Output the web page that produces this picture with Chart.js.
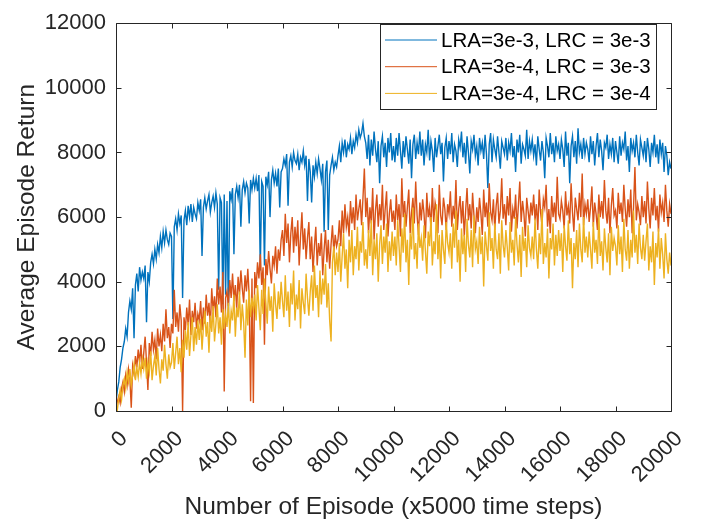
<!DOCTYPE html>
<html>
<head>
<meta charset="utf-8">
<script src="https://cdn.jsdelivr.net/npm/chart.js@4.4.0/dist/chart.umd.min.js"></script>
<style>
  html, body { margin: 0; padding: 0; background: #fff; }
  #wrap { width: 710px; height: 522px; }
</style>
</head>
<body>
<div id="wrap"><canvas id="return-chart" width="710" height="522"></canvas></div>
<script>
// one value every 50 episodes, 0 .. 20000
const episodeStep = 50;
const seriesLabels = ['LRA=3e-3, LRC = 3e-3', 'LRA=3e-4, LRC = 3e-3', 'LRA=3e-4, LRC = 3e-4'];
const seriesColors = ['#0072BD', '#D95319', '#EDB120'];

const blueReturn = [
  300, 650, 900, 1350, 1600, 1950, 2150, 2550, 2300, 3050, 3400, 3150, 3800, 2250, 3900, 4250, 3700, 4450, 4050, 4300,
  4100, 4500, 2750, 4300, 4000, 4600, 4850, 4550, 5000, 4700, 5150, 4900, 5400, 5050, 5550, 5200, 5600, 5300, 5150, 5500,
  5400, 2850, 5700, 5950, 5600, 6100, 5800, 6050, 3500, 5900, 6200, 5750, 6350, 6000, 6400, 5850, 6300, 6100, 5950, 6450,
  6200, 6550, 4800, 6300, 6600, 6250, 6500, 6700, 6150, 6450, 6650, 6300, 6750, 6400, 3750, 6600, 6450, 3300, 6700, 3600,
  6500, 2900, 6800, 6550, 6900, 4850, 6700, 6950, 6600, 7000, 5700, 6850, 7100, 6750, 7050, 6900, 5800, 7150, 6850, 7200,
  6900, 7200, 6800, 7300, 4350, 7100, 6950, 4500, 7250, 7000, 7400, 6000, 7150, 7450, 7050, 7350, 6950, 7500, 6300, 7400,
  7500, 7800, 7600, 7950, 6350, 7700, 7900, 7550, 8000, 7750, 7650, 7950, 7450, 7850, 7700, 8050, 7600, 7900, 6500, 7800,
  7400, 6450, 7600, 7250, 7700, 7350, 7800, 7500, 7150, 7650, 5550, 7400, 7750, 5600, 7300, 7600, 7850, 7450, 7700, 7550,
  7900, 8200, 7700, 8300, 8000, 8400, 7850, 8250, 8100, 8450, 7950, 8350, 8150, 8550, 8300, 8700, 8450, 8600, 8900, 8500,
  8300, 7800, 8550, 7600, 8400, 7900, 8650, 8100, 7700, 8350, 7050, 8200, 8500, 7850, 8300, 7550, 8450, 8000, 8600, 7750,
  8200, 7700, 8450, 7900, 8600, 8050, 7500, 8350, 7850, 8500, 8100, 7650, 8400, 7200, 8250, 8550, 7800, 8300, 7950, 8650,
  7900, 8400, 7600, 8250, 8000, 8700, 7750, 8350, 8050, 7400, 8450, 7850, 8200, 8550, 7950, 8300, 7100, 8150, 8450, 7800,
  8350, 7950, 8600, 7700, 8250, 8050, 7550, 8400, 8150, 8650, 7850, 8300, 7650, 8500, 8000, 7350, 8350, 8100, 8550, 7900,
  8200, 7600, 8450, 8050, 8300, 7800, 8550, 7950, 6900, 8250, 8600, 7700, 8400, 8100, 7850, 8500, 8000, 7500, 8350, 8150,
  7950, 8450, 7750, 8300, 8050, 8600, 7850, 8200, 7400, 8400, 8000, 8550, 7650, 8250, 8100, 7900, 8700, 7800, 8350, 8050,
  8400, 7900, 8250, 7600, 8500, 8100, 7750, 8350, 8000, 7200, 8450, 8200, 7850, 8600, 7950, 8300, 7700, 8500, 8050, 8250,
  7800, 8400, 8100, 7550, 8650, 7900, 8300, 7050, 8200, 8500, 7850, 8350, 7650, 8750, 8000, 8250, 7800, 8450, 7950, 8300,
  8100, 7700, 8500, 7950, 8350, 7600, 8200, 8600, 7850, 8400, 8050, 7450, 8300, 8150, 8550, 7800, 8250, 7950, 8450, 7700,
  8350, 8000, 7650, 8500, 7900, 8300, 8100, 8650, 7750, 8200, 7400, 8450, 8050, 8300, 7850, 8550, 8000, 7600, 8400, 8150,
  7900, 8350, 7700, 8450, 8100, 7550, 8300, 8000, 8550, 7850, 8250, 7650, 8400, 7950, 8300, 7400, 8200, 7900, 7300, 7700,
  7500
];

const orangeReturn = [
  100, 300, 450, 250, 700, 900, 600, 1100, 800, 1300, 1000, 100, 1400, 1150, 1700, 1350, 1900, 1500, 2050, 1300,
  1800, 2300, 1500, 650, 2100, 1700, 2450, 1900, 2200, 1600, 2550, 2000, 2350, 1850, 2700, 2150, 3150, 2250, 2600, 1950,
  2700, 2400, 3750, 2600, 3050, 2450, 3300, 2800, 0, 2900, 2500, 3200, 2650, 3450, 2350, 3100, 2750, 3350, 2550, 3000,
  2800, 3400, 2500, 3200, 2700, 3600, 2950, 3350, 2600, 3800, 3100, 3550, 2900, 4100, 3300, 3850, 3050, 4300, 600, 3500,
  3700, 3250, 4050, 3500, 4250, 3400, 3900, 3150, 4150, 3600, 4350, 3800, 3350, 4200, 3700, 4400, 3550, 300, 4100, 250,
  4300, 3800, 4600, 4100, 4850, 3900, 4450, 2050, 4700, 4200, 4950, 4400, 3950, 4800, 4500, 5100, 4250, 5000, 4650, 5300,
  5600, 4800, 6100, 5200, 5800, 4600, 5500, 6000, 4900, 5700, 5100, 5900, 4500, 5400, 6150, 5000, 5650, 4700, 5350, 5850,
  4700, 5400, 4300, 5100, 5700, 4500, 5200, 4800, 5500, 4200, 5000, 5600, 4600, 5300, 4400, 5150, 5750, 4900, 5450, 5100,
  5300, 5900, 5100, 6200, 5500, 6400, 5700, 6000, 5400, 6500, 5800, 6300, 5600, 6700, 5900, 6250, 6550, 5750, 6600, 7500,
  6000, 6600, 5500, 6300, 5800, 6900, 5300, 6200, 6700, 5700, 6400, 5900, 7000, 5600, 6250, 6800, 5400, 6100, 6550, 5850,
  6200, 5600, 6700, 5900, 6400, 5400, 7200, 6000, 6500, 5700, 6300, 6850, 5500, 6150, 6600, 5800, 7100, 6050, 5450, 6450,
  5900, 6550, 6100, 5350, 6750, 6000, 6300, 5650, 6900, 5850, 6450, 6200, 5500, 7000, 6050, 5750, 6600, 6250, 5600, 6400,
  6100, 6800, 5700, 6350, 5950, 7150, 5600, 6250, 6650, 5800, 6500, 5400, 6200, 6900, 5900, 6400, 5650, 6750, 6050, 5500,
  6300, 5850, 6600, 6100, 5450, 6850, 6000, 6450, 5700, 7050, 6150, 5900, 6550, 5600, 6350, 6750, 5800, 6200, 7200, 5950,
  6400, 5750, 6650, 6050, 6900, 5550, 6250, 5950, 6700, 5650, 6350, 7100, 5850, 6500, 6100, 5400, 6600, 6200, 5800, 6450,
  6050, 6700, 5900, 6400, 5600, 6850, 6150, 5750, 6550, 6300, 7000, 5700, 6250, 5500, 6650, 6000, 6450, 5850, 7250, 6100,
  5950, 6500, 6200, 5650, 6800, 6050, 6350, 5800, 7050, 6150, 5550, 6600, 6250, 5900, 6750, 6000, 7350, 5750, 6400, 6100,
  6550, 5850, 6300, 6950, 5700, 6450, 6100, 5600, 6700, 6000, 6500, 5950, 7150, 6200, 5800, 6600, 5500, 6350, 6900, 6050,
  6200, 5650, 6750, 6100, 6450, 5850, 7000, 6250, 5700, 6550, 6000, 6850, 5500, 6300, 7550, 5900, 6400, 6150, 5750, 6650,
  6000, 6500, 5800, 7100, 6250, 5650, 6600, 6050, 6900, 5900, 6350, 5550, 6700, 6150, 6450, 5850, 7000, 6200, 5700, 6400,
  6100
];

const yellowReturn = [
  200, 50, 400, 650, 350, 800, 1000, 700, 1200, 900, 1300, 800, 1100, 1450, 950, 1350, 1050, 1500, 1150, 1600,
  1300, 1650, 1000, 1500, 1200, 1850, 950, 1400, 1700, 1100, 1950, 1300, 850, 1600, 1250, 2050, 1450, 1000, 1750, 1350,
  1500, 2100, 1300, 1800, 2300, 1450, 1950, 1200, 2200, 1650, 2500, 1900, 2750, 1700, 2350, 2900, 1850, 2600, 2050, 2800,
  2200, 2850, 1900, 2600, 3100, 2300, 2750, 1800, 2950, 2450, 3250, 2150, 2700, 3300, 2400, 2900, 2050, 3150, 2550, 3000,
  2600, 3350, 2400, 3100, 2800, 3600, 2300, 3200, 2900, 3700, 2500, 3300, 2750, 1650, 3450, 2650, 3750, 2900, 3500, 3150,
  3600, 2800, 3900, 3200, 2500, 3750, 3000, 4100, 3350, 2700, 3850, 3100, 3550, 2450, 3950, 3300, 2850, 3700, 3150, 4000,
  3400, 2900, 4200, 3100, 3700, 2600, 3950, 3300, 4350, 2800, 3600, 3150, 4050, 2550, 3800, 3350, 3000, 4250, 3500, 2950,
  3700, 4200, 3100, 4500, 3500, 3900, 2900, 4350, 3300, 4100, 3600, 4550, 3200, 3950, 2800, 2150, 4600, 5100, 4200, 4900,
  4300, 5200, 4000, 4800, 5500, 4400, 5000, 3800, 5300, 4600, 5600, 4200, 5100, 4700, 5700, 4350, 5250, 4900, 5850, 4500,
  5000, 4400, 5600, 4800, 5900, 4200, 5300, 4700, 5500, 4000, 5150, 5750, 4550, 5400, 4900, 5800, 4300, 5250, 4650, 5550,
  4800, 5400, 4500, 5900, 5100, 4300, 5650, 4900, 6100, 4600, 5300, 3900, 5500, 5000, 6300, 4700, 5200, 4400, 5800, 5050,
  5350, 4650, 5750, 4950, 4250, 5550, 5100, 6000, 4500, 5250, 4850, 6400, 4700, 5450, 4100, 5600, 5000, 4550, 5850, 5200,
  4900, 5500, 4400, 5800, 5050, 6200, 4600, 5300, 4000, 5650, 4850, 5450, 4300, 5950, 5150, 4750, 5600, 4450, 6050, 5000,
  5250, 4550, 5700, 4850, 5400, 3850, 5550, 5100, 4650, 6150, 4950, 5350, 4400, 5800, 5000, 4700, 5500, 4250, 5900, 5150,
  4750, 5600, 5050, 4350, 5850, 4900, 5300, 4500, 6000, 5150, 4600, 5450, 4150, 5700, 4950, 5350, 4450, 5750, 5050, 4800,
  5400, 4700, 5950, 5000, 4400, 5500, 4850, 6250, 4550, 5200, 4750, 5650, 4100, 5350, 5000, 5800, 4500, 5450, 4800, 5600,
  4950, 5500, 4300, 5750, 5100, 4650, 5900, 4850, 5350, 3800, 5200, 4700, 5600, 4450, 5800, 5000, 4600, 6000, 4900, 5400,
  4750, 5550, 5000, 4400, 5850, 4900, 5300, 4550, 6100, 4800, 5250, 4350, 5650, 5050, 4600, 5500, 4200, 5700, 4950, 5350,
  5100, 4500, 5750, 4850, 5400, 4300, 5950, 5000, 4650, 5600, 4400, 5300, 4750, 6200, 4900, 5450, 4550, 5800, 5050, 4700,
  5450, 4650, 5250, 5800, 4350, 5100, 4600, 5550, 3900, 5200, 4750, 5650, 4400, 5350, 4850, 4100, 5500, 4700, 4250, 4900,
  4500
];

const axisColor = '#262626';
const fontFamily = '"Liberation Sans", Arial, Helvetica, sans-serif';

function toPoints(values) {
  return values.map((v, i) => ({ x: i * episodeStep, y: v }));
}

// matlab style box with inward ticks on all four sides
const axesBox = {
  id: 'axesBox',
  afterDatasetsDraw(chart) {
    const { ctx, chartArea: a, scales } = chart;
    const l = Math.round(a.left) + 0.5, r = Math.round(a.right) + 0.5;
    const t = Math.round(a.top) + 0.5, b = Math.round(a.bottom) + 0.5;
    const len = 5;
    ctx.save();
    ctx.strokeStyle = axisColor;
    ctx.lineWidth = 1;
    ctx.beginPath();
    ctx.rect(l, t, r - l, b - t);
    scales.x.ticks.forEach(tk => {
      const px = Math.round(scales.x.getPixelForValue(tk.value)) + 0.5;
      ctx.moveTo(px, b); ctx.lineTo(px, b - len);
      ctx.moveTo(px, t); ctx.lineTo(px, t + len);
    });
    scales.y.ticks.forEach(tk => {
      const py = Math.round(scales.y.getPixelForValue(tk.value)) + 0.5;
      ctx.moveTo(l, py); ctx.lineTo(l + len, py);
      ctx.moveTo(r, py); ctx.lineTo(r - len, py);
    });
    ctx.stroke();
    ctx.restore();
  }
};

const boxLegend = {
  id: 'boxLegend',
  afterDraw(chart) {
    const { ctx } = chart;
    ctx.save();
    ctx.fillStyle = '#fff';
    ctx.fillRect(380, 24, 277, 85);
    ctx.strokeStyle = axisColor;
    ctx.lineWidth = 1;
    ctx.strokeRect(380.5, 24.5, 276, 85);
    ctx.font = '20.5px ' + fontFamily;
    ctx.textBaseline = 'middle';
    ctx.textAlign = 'left';
    chart.data.datasets.forEach((ds, i) => {
      const y = 40 + i * 26.7;
      ctx.strokeStyle = ds.borderColor;
      ctx.lineWidth = 1;
      ctx.beginPath();
      ctx.moveTo(385, y);
      ctx.lineTo(437, y);
      ctx.stroke();
      ctx.fillStyle = '#000';
      ctx.fillText(ds.label, 441, y + 1);
    });
    ctx.restore();
  }
};

new Chart(document.getElementById('return-chart'), {
  type: 'line',
  data: {
    datasets: [blueReturn, orangeReturn, yellowReturn].map((vals, i) => ({
      label: seriesLabels[i],
      data: toPoints(vals),
      borderColor: seriesColors[i],
      backgroundColor: seriesColors[i],
      borderWidth: 1.4,
      pointRadius: 0,
      tension: 0,
      order: 3 - i
    }))
  },
  options: {
    responsive: false,
    animation: false,
    devicePixelRatio: 1,
    layout: { padding: { top: 9, right: 39, bottom: 0, left: 0 } },
    plugins: {
      legend: { display: false },
      tooltip: { enabled: false }
    },
    scales: {
      x: {
        type: 'linear',
        min: 0,
        max: 20000,
        grid: { display: false, drawTicks: false },
        border: { display: false },
        ticks: {
          stepSize: 2000,
          autoSkip: false,
          maxRotation: 45,
          minRotation: 45,
          padding: 15,
          labelOffset: 8,
          color: axisColor,
          font: { family: fontFamily, size: 22 },
          callback: v => String(v)
        },
        title: {
          display: true,
          text: 'Number of Episode (x5000 time steps)',
          color: axisColor,
          font: { family: fontFamily, size: 24.5 },
          padding: { top: 0, bottom: 0 }
        },
        afterFit(scale) { scale.height = 111; }
      },
      y: {
        min: 0,
        max: 12000,
        grid: { display: false, drawTicks: false },
        border: { display: false },
        ticks: {
          stepSize: 2000,
          padding: 10,
          color: axisColor,
          font: { family: fontFamily, size: 22 },
          callback: v => String(v)
        },
        title: {
          display: true,
          text: 'Average Episode Return',
          color: axisColor,
          font: { family: fontFamily, size: 24.5 },
          padding: { top: 13, bottom: 0 }
        },
        afterFit(scale) { scale.width = 116; }
      }
    }
  },
  plugins: [axesBox, boxLegend]
});
</script>
</body>
</html>
